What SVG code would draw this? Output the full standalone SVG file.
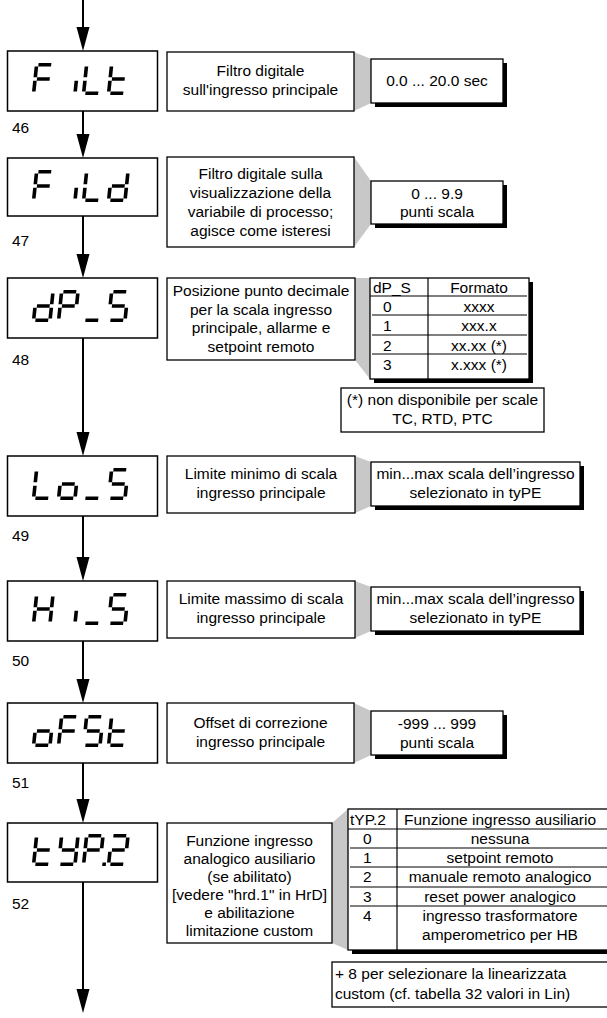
<svg xmlns="http://www.w3.org/2000/svg" width="607" height="1018" viewBox="0 0 607 1018">
<style>
text { font-family: "Liberation Sans", Arial, sans-serif; font-size: 15.5px; fill: #000; }
.c { text-anchor: middle; }
.box { fill: #fff; stroke: #000; stroke-width: 1.3; }
.disp { fill: #fff; stroke: #000; stroke-width: 1.5; }
.shadow { fill: #000; }
.taper { fill: #c8c8c8; }
.dig { stroke: #000; stroke-width: 3.6; fill: #000; }
.conn { stroke: #000; stroke-width: 2; fill: none; }
.rule { stroke: #000; stroke-width: 1.2; }
</style>
<defs>
<marker id="ah" markerUnits="userSpaceOnUse" markerWidth="26" markerHeight="14" refX="4" refY="7" orient="auto"><path d="M0,0.5 L24,7 L0,13.5 z" fill="#000"/></marker>
<line id="sa" x1="3.6" y1="1.8" x2="16.4" y2="1.8"/>
<line id="sb" x1="18.2" y1="3.6" x2="18.2" y2="14.2"/>
<line id="sc" x1="18.2" y1="17.8" x2="18.2" y2="28.4"/>
<line id="sd" x1="3.6" y1="30.2" x2="16.4" y2="30.2"/>
<line id="se" x1="1.8" y1="17.8" x2="1.8" y2="28.4"/>
<line id="sf" x1="1.8" y1="3.6" x2="1.8" y2="14.2"/>
<line id="sg" x1="3.6" y1="16" x2="16.4" y2="16"/>
<rect id="sdp" x="20.5" y="28.4" width="3.6" height="3.6" stroke="none"/>
</defs>

<g id="connectors" class="conn">
<line x1="83" y1="0" x2="83" y2="31" marker-end="url(#ah)"/>
<line x1="83" y1="111" x2="83" y2="138" marker-end="url(#ah)"/>
<line x1="83" y1="216" x2="83" y2="258" marker-end="url(#ah)"/>
<line x1="83" y1="338" x2="83" y2="436" marker-end="url(#ah)"/>
<line x1="83" y1="516" x2="83" y2="561" marker-end="url(#ah)"/>
<line x1="83" y1="641" x2="83" y2="683" marker-end="url(#ah)"/>
<line x1="83" y1="763" x2="83" y2="803" marker-end="url(#ah)"/>
<line x1="83" y1="882" x2="83" y2="993" marker-end="url(#ah)"/>
</g>

<g id="node-FiLt">
<rect class="disp" x="7.5" y="51" width="150" height="60"/>
<g class="dig" transform="translate(35,63) skewX(-6)"><use href="#sa"/><use href="#sf"/><use href="#se"/><use href="#sg"/></g>
<g class="dig" transform="translate(60,63) skewX(-6)"><use href="#sc"/></g>
<g class="dig" transform="translate(85,63) skewX(-6)"><use href="#sf"/><use href="#se"/><use href="#sd"/></g>
<g class="dig" transform="translate(110,63) skewX(-6)"><use href="#sf"/><use href="#se"/><use href="#sd"/><use href="#sg"/></g>
<text x="12" y="133">46</text>
<polygon class="taper" points="354,52 371,59 371,103 354,111"/>
<rect class="box" x="167" y="52" width="187" height="59"/>
<text class="c" x="260.5" y="76">Filtro digitale</text>
<text class="c" x="260.5" y="95">sull'ingresso principale</text>
<rect class="shadow" x="375" y="63" width="132" height="44"/>
<rect class="box" x="371" y="59" width="132" height="44"/>
<text class="c" x="437" y="86">0.0 ... 20.0 sec</text>
</g>

<g id="node-FiLd">
<rect class="disp" x="7.5" y="158" width="150" height="58"/>
<g class="dig" transform="translate(35,170) skewX(-6)"><use href="#sa"/><use href="#sf"/><use href="#se"/><use href="#sg"/></g>
<g class="dig" transform="translate(60,170) skewX(-6)"><use href="#sc"/></g>
<g class="dig" transform="translate(85,170) skewX(-6)"><use href="#sf"/><use href="#se"/><use href="#sd"/></g>
<g class="dig" transform="translate(110,170) skewX(-6)"><use href="#sb"/><use href="#sc"/><use href="#sd"/><use href="#se"/><use href="#sg"/></g>
<text x="12" y="246">47</text>
<polygon class="taper" points="354,157 371,181 371,224 354,247"/>
<rect class="box" x="167" y="157" width="187" height="90"/>
<text class="c" x="260.5" y="179">Filtro digitale sulla</text>
<text class="c" x="260.5" y="198">visualizzazione della</text>
<text class="c" x="260.5" y="217">variabile di processo;</text>
<text class="c" x="260.5" y="236">agisce come isteresi</text>
<rect class="shadow" x="375" y="185" width="132" height="43"/>
<rect class="box" x="371" y="181" width="132" height="43"/>
<text class="c" x="437" y="199">0 ... 9.9</text>
<text class="c" x="437" y="217">punti scala</text>
</g>

<g id="node-dP_S">
<rect class="disp" x="7.5" y="278" width="150" height="60"/>
<g class="dig" transform="translate(35,290) skewX(-6)"><use href="#sb"/><use href="#sc"/><use href="#sd"/><use href="#se"/><use href="#sg"/></g>
<g class="dig" transform="translate(60,290) skewX(-6)"><use href="#sa"/><use href="#sb"/><use href="#sf"/><use href="#sg"/><use href="#se"/></g>
<g class="dig" transform="translate(85,290) skewX(-6)"><use href="#sd"/></g>
<g class="dig" transform="translate(110,290) skewX(-6)"><use href="#sa"/><use href="#sf"/><use href="#sg"/><use href="#sc"/><use href="#sd"/></g>
<text x="12" y="365">48</text>
<polygon class="taper" points="355,278 370,278 370,379 355,360"/>
<rect class="box" x="167" y="278" width="188" height="82"/>
<text class="c" x="261" y="296">Posizione punto decimale</text>
<text class="c" x="261" y="314.5">per la scala ingresso</text>
<text class="c" x="261" y="333">principale, allarme e</text>
<text class="c" x="261" y="351.5">setpoint remoto</text>
<rect class="shadow" x="374" y="282" width="159" height="101"/>
<rect class="box" x="370" y="278" width="159" height="101"/>
<line class="rule" x1="370" y1="296" x2="527" y2="296"/>
<line class="rule" x1="372" y1="315" x2="527" y2="315"/>
<line class="rule" x1="372" y1="335" x2="527" y2="335"/>
<line class="rule" x1="372" y1="354" x2="527" y2="354"/>
<line class="rule" x1="428" y1="278" x2="428" y2="379"/>
<text x="373" y="293">dP_S</text>
<text class="c" x="479" y="293">Formato</text>
<text x="383" y="312">0</text>
<text x="383" y="331">1</text>
<text x="383" y="351">2</text>
<text x="383" y="370">3</text>
<text class="c" x="479" y="312">xxxx</text>
<text class="c" x="479" y="331">xxx.x</text>
<text class="c" x="479" y="351">xx.xx (*)</text>
<text class="c" x="479" y="370">x.xxx (*)</text>
<rect class="box" x="341" y="388" width="203" height="44"/>
<text class="c" x="442.5" y="405">(*) non disponibile per scale</text>
<text class="c" x="442.5" y="424">TC, RTD, PTC</text>
</g>

<g id="node-Lo_S">
<rect class="disp" x="7.5" y="456" width="150" height="60"/>
<g class="dig" transform="translate(35,468) skewX(-6)"><use href="#sf"/><use href="#se"/><use href="#sd"/></g>
<g class="dig" transform="translate(60,468) skewX(-6)"><use href="#sc"/><use href="#sd"/><use href="#se"/><use href="#sg"/></g>
<g class="dig" transform="translate(85,468) skewX(-6)"><use href="#sd"/></g>
<g class="dig" transform="translate(110,468) skewX(-6)"><use href="#sa"/><use href="#sf"/><use href="#sg"/><use href="#sc"/><use href="#sd"/></g>
<text x="12" y="541">49</text>
<polygon class="taper" points="355,456 371,462 371,506 355,513"/>
<rect class="box" x="167" y="456" width="188" height="57"/>
<text class="c" x="261" y="479">Limite minimo di scala</text>
<text class="c" x="261" y="498">ingresso principale</text>
<rect class="shadow" x="375" y="466" width="209" height="44"/>
<rect class="box" x="371" y="462" width="209" height="44"/>
<text class="c" x="475.5" y="479">min...max scala dell’ingresso</text>
<text class="c" x="475.5" y="498">selezionato in tyPE</text>
</g>

<g id="node-Hi_S">
<rect class="disp" x="7.5" y="581" width="150" height="60"/>
<g class="dig" transform="translate(35,593) skewX(-6)"><use href="#sb"/><use href="#sc"/><use href="#se"/><use href="#sf"/><use href="#sg"/></g>
<g class="dig" transform="translate(60,593) skewX(-6)"><use href="#sc"/></g>
<g class="dig" transform="translate(85,593) skewX(-6)"><use href="#sd"/></g>
<g class="dig" transform="translate(110,593) skewX(-6)"><use href="#sa"/><use href="#sf"/><use href="#sg"/><use href="#sc"/><use href="#sd"/></g>
<text x="12" y="666">50</text>
<polygon class="taper" points="355,581 371,587 371,631 355,638"/>
<rect class="box" x="167" y="581" width="188" height="57"/>
<text class="c" x="261" y="604">Limite massimo di scala</text>
<text class="c" x="261" y="623">ingresso principale</text>
<rect class="shadow" x="375" y="591" width="209" height="44"/>
<rect class="box" x="371" y="587" width="209" height="44"/>
<text class="c" x="475.5" y="604">min...max scala dell’ingresso</text>
<text class="c" x="475.5" y="623">selezionato in tyPE</text>
</g>

<g id="node-oFSt">
<rect class="disp" x="7.5" y="703" width="150" height="60"/>
<g class="dig" transform="translate(35,715) skewX(-6)"><use href="#sc"/><use href="#sd"/><use href="#se"/><use href="#sg"/></g>
<g class="dig" transform="translate(60,715) skewX(-6)"><use href="#sa"/><use href="#sf"/><use href="#se"/><use href="#sg"/></g>
<g class="dig" transform="translate(85,715) skewX(-6)"><use href="#sa"/><use href="#sf"/><use href="#sg"/><use href="#sc"/><use href="#sd"/></g>
<g class="dig" transform="translate(110,715) skewX(-6)"><use href="#sf"/><use href="#se"/><use href="#sd"/><use href="#sg"/></g>
<text x="12" y="788">51</text>
<polygon class="taper" points="354,703 371,711 371,755 354,763"/>
<rect class="box" x="167" y="703" width="187" height="60"/>
<text class="c" x="260.5" y="728">Offset di correzione</text>
<text class="c" x="260.5" y="747">ingresso principale</text>
<rect class="shadow" x="375" y="715" width="132" height="44"/>
<rect class="box" x="371" y="711" width="132" height="44"/>
<text class="c" x="437" y="729">-999 ... 999</text>
<text class="c" x="437" y="748">punti scala</text>
</g>

<g id="node-tYP2">
<rect class="disp" x="7.5" y="823" width="150" height="59"/>
<g class="dig" transform="translate(35,834) skewX(-6)"><use href="#sf"/><use href="#se"/><use href="#sd"/><use href="#sg"/></g>
<g class="dig" transform="translate(60,834) skewX(-6)"><use href="#sb"/><use href="#sc"/><use href="#sd"/><use href="#sf"/><use href="#sg"/></g>
<g class="dig" transform="translate(85,834) skewX(-6)"><use href="#sa"/><use href="#sb"/><use href="#sf"/><use href="#sg"/><use href="#se"/><use href="#sdp"/></g>
<g class="dig" transform="translate(110,834) skewX(-6)"><use href="#sa"/><use href="#sb"/><use href="#sg"/><use href="#se"/><use href="#sd"/></g>
<text x="12" y="909">52</text>
<polygon class="taper" points="332,823 348,809 348,950 332,943"/>
<rect class="box" x="167" y="823" width="165" height="120"/>
<text class="c" x="249.5" y="846">Funzione ingresso</text>
<text class="c" x="249.5" y="864">analogico ausiliario</text>
<text class="c" x="249.5" y="882">(se abilitato)</text>
<text class="c" x="249.5" y="900">[vedere "hrd.1" in HrD]</text>
<text class="c" x="249.5" y="918">e abilitazione</text>
<text class="c" x="249.5" y="936">limitazione custom</text>
<rect class="shadow" x="352" y="813" width="270" height="141"/>
<rect class="box" x="348" y="809" width="270" height="141"/>
<line class="rule" x1="348" y1="829" x2="612" y2="829"/>
<line class="rule" x1="350" y1="848" x2="612" y2="848"/>
<line class="rule" x1="350" y1="867" x2="612" y2="867"/>
<line class="rule" x1="350" y1="887" x2="612" y2="887"/>
<line class="rule" x1="350" y1="906" x2="612" y2="906"/>
<line class="rule" x1="397" y1="809" x2="397" y2="950"/>
<text x="350" y="825">tYP.2</text>
<text class="c" x="500" y="825">Funzione ingresso ausiliario</text>
<text x="363" y="844">0</text>
<text x="363" y="863">1</text>
<text x="363" y="882">2</text>
<text x="363" y="902">3</text>
<text x="363" y="921">4</text>
<text class="c" x="500" y="844">nessuna</text>
<text class="c" x="500" y="863">setpoint remoto</text>
<text class="c" x="500" y="882">manuale remoto analogico</text>
<text class="c" x="500" y="902">reset power analogico</text>
<text class="c" x="500" y="921">ingresso trasformatore</text>
<text class="c" x="500" y="940">amperometrico per HB</text>
<rect class="box" x="332" y="962" width="285" height="45"/>
<text x="335" y="979">+ 8 per selezionare la linearizzata</text>
<text x="335" y="999">custom (cf. tabella 32 valori in Lin)</text>
</g>
</svg>
